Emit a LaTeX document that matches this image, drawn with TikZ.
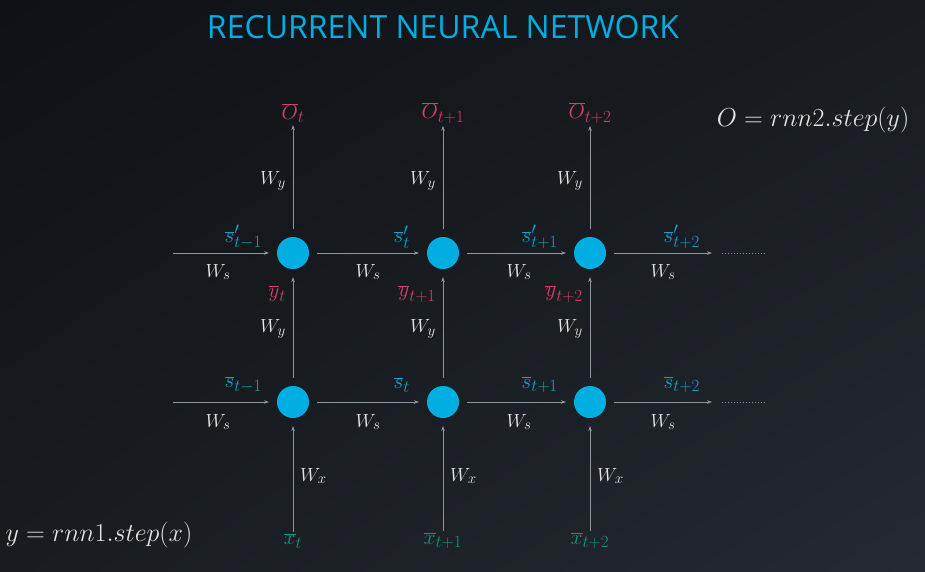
\RequirePackage{fix-cm}
\documentclass[tikz,border=0pt]{standalone}
\usepackage{fontspec}
\setsansfont{Open Sans}
\usetikzlibrary{arrows.meta,positioning,calc,shadings}
\DeclareMathSizes{19}{19}{15}{12}
\DeclareMathSizes{21}{21}{17}{13}
\definecolor{bgdark}{RGB}{14,17,21}
\definecolor{bgmid}{RGB}{24,28,33}
\definecolor{bglight}{RGB}{36,42,48}
\definecolor{cellblue}{RGB}{0,174,226}
\definecolor{sblue}{RGB}{24,160,205}
\definecolor{ored}{RGB}{214,64,104}
\definecolor{xgreen}{RGB}{20,150,128}
\definecolor{wire}{RGB}{140,150,160}
\definecolor{ink}{RGB}{228,228,228}

\begin{document}
\begin{tikzpicture}[x=1pt,y=1pt,
 cell/.style={circle,fill=cellblue,minimum size=32pt,inner sep=0pt,outer sep=8pt},
 arr/.style={-{Stealth[length=5pt,width=3.5pt]},draw=wire,line width=.7pt},
 wlab/.style={text=ink,inner sep=1pt,font=\fontsize{19}{22}\selectfont},
 vlab/.style={inner sep=2pt,font=\fontsize{21}{25}\selectfont},
 eqn/.style={text=ink,font=\fontsize{26}{31}\selectfont}]
\shade[upper left=bgdark,upper right=bgmid,lower left=bgmid,lower right=bglight] (0,0) rectangle (925,-571);
\useasboundingbox (0,0) rectangle (925,-571);
\node[text=cellblue,font=\sffamily\fontsize{32}{38}\selectfont] (title) at (443,-27) {RECURRENT NEURAL NETWORK};
\node[eqn] (eqtop) at (813,-120) {$O = rnn2.step(y)$};
\node[eqn] (eqbot) at (99,-535) {$y = rnn1.step(x)$};
% two rows of cells
\foreach \i/\x/\sub in {1/293/t,2/443/t+1,3/590/t+2}{
 \node[cell] (u\i) at (\x,-253) {};
 \node[cell] (d\i) at (\x,-402) {};
 \node[vlab,text=ored] (o\i) at (\x,-113) {$\overline{O}_{\sub}$};
 \node[vlab,text=xgreen] (x\i) at (\x,-541) {$\overline{x}_{\sub}$};
 \node[vlab,text=ored,anchor=east] (y\i) at (\x-5,-294) {$\overline{y}_{\sub}$};
 \node[wlab,anchor=east] (wyt\i) at (\x-6,-181) {$W_y$};
 \node[wlab,anchor=east] (wym\i) at (\x-6,-329) {$W_y$};
 \node[wlab,anchor=west] (wx\i) at (\x+6,-476) {$W_x$};
 \draw[arr] (u\i)--(o\i);
 \draw[arr] (d\i)--(u\i);
 \draw[arr] (x\i)--(d\i);
}
% state labels
\foreach \j/\x/\sub/\wx in {0/264/t-1/218,1/412/t/368,2/560/t+1/519,3/702/t+2/663}{
 \node[vlab,text=sblue,anchor=east] (sp\j) at (\x,-237) {$\overline{s}'_{\sub}$};
 \node[vlab,text=sblue,anchor=east] (s\j) at (\x,-385) {$\overline{s}_{\sub}$};
 \node[wlab] (wsu\j) at (\wx,-272) {$W_s$};
 \node[wlab] (wsd\j) at (\wx,-422) {$W_s$};
}
% free ends of the state chains
\coordinate (inu) at (173,-253);
\coordinate (ind) at (173,-402);
\coordinate (outu) at (712,-253);
\coordinate (outd) at (712,-402);
\coordinate (dotu) at (765,-253);
\coordinate (dotd) at (765,-402);
\draw[arr] (inu)--(u1);\draw[arr] (ind)--(d1);
\foreach \a/\b in {u1/u2,u2/u3,d1/d2,d2/d3}{\draw[arr] (\a)--(\b);}
\draw[arr] (u3)--(outu);\draw[arr] (d3)--(outd);
\draw[wire,line width=1pt,dotted] ($(outu)+(10,0)$)--(dotu);
\draw[wire,line width=1pt,dotted] ($(outd)+(10,0)$)--(dotd);
\end{tikzpicture}
\end{document}
